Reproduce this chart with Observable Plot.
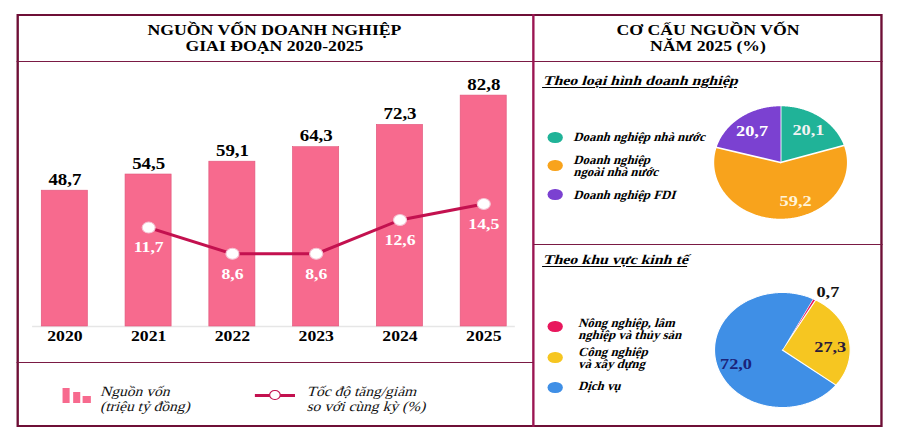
<!DOCTYPE html>
<html>
<head>
<meta charset="utf-8">
<script src="https://cdn.jsdelivr.net/npm/d3@7"></script>
<script src="https://cdn.jsdelivr.net/npm/@observablehq/plot@0.6"></script>
<style>
  html, body { margin: 0; padding: 0; background: #fff; }
  body { width: 897px; height: 441px; overflow: hidden; position: relative; }
  #page {
    position: absolute; left: 0; top: 0; width: 760px; height: 441px;
    transform: scaleX(1.18); transform-origin: 0 0;
    font-family: "Liberation Serif", "Times New Roman", serif; color: #000;
  }
  .abs { position: absolute; }
  .frame { left: 13.6px; top: 14px; width: 734.7px; height: 413px; border: 2px solid #6e0f36; box-sizing: border-box; }
  .hline { height: 1.5px; background: #7a1a44; }
  .vline { width: 2px; background: #9b1552; }
  .title { text-align: center; font-weight: bold; font-size: 15px; line-height: 16px; }
  /* slanted serif text, one line per element */
  .it { font-style: normal; transform: skewX(-14deg); transform-origin: 0 75%; white-space: nowrap; }
  .sub { font-weight: bold; font-size: 13.5px; line-height: 16px; text-decoration: underline; text-underline-offset: 2px; }
  .leg { font-weight: bold; font-size: 12.5px; line-height: 12.5px; transform: skewX(-14deg) scaleX(0.87); }
  .key { border-radius: 50%; width: 12.5px; height: 11px; }
  .bleg { font-size: 14px; line-height: 15px; color: #111; transform: skewX(-14deg) scaleX(0.94); }
</style>
</head>
<body>
<div id="page">
  <div class="abs frame"></div>
  <div class="abs hline" style="left:13.6px; top:60.5px; width:734.7px;"></div>
  <div class="abs vline" style="left:450.7px; top:14px; height:413px;"></div>
  <div class="abs hline" style="left:13.6px; top:361.5px; width:438px;"></div>
  <div class="abs hline" style="left:451.7px; top:243.5px; width:296.6px;"></div>

  <div class="abs title" style="left:13.6px; top:22px; width:438px;">NGUỒN VỐN DOANH NGHIỆP<br>GIAI ĐOẠN 2020-2025</div>
  <div class="abs title" style="left:451.7px; top:22px; width:296.6px;">CƠ CẤU NGUỒN VỐN<br>NĂM 2025 (%)</div>

  <div class="abs sub it" style="left:460.2px; top:73px;">Theo loại hình doanh nghiệp</div>
  <div class="abs sub it" style="left:460.2px; top:252px;">Theo khu vực kinh tế</div>

  <div id="barChart" class="abs" style="left:13.6px; top:62px;"></div>
  <div id="lineChart" class="abs" style="left:13.6px; top:62px;"></div>

  <div id="pieOwnership" class="abs" style="left:582px; top:83px;"></div>
  <div id="pieSector" class="abs" style="left:583.2px; top:270px;"></div>

  <div id="legendOwnership"></div>
  <div id="legendSector"></div>

  <!-- legend for the bar/line chart -->
  <div class="abs" style="left:53.4px; top:388px; width:6px; height:15px; background:#f76a8e;"></div>
  <div class="abs" style="left:61.5px; top:392px; width:6.5px; height:11px; background:#f76a8e;"></div>
  <div class="abs" style="left:70px; top:396px; width:6.5px; height:7px; background:#f76a8e;"></div>
  <div class="abs bleg it" style="left:84.7px; top:384px;">Nguồn vốn</div>
  <div class="abs bleg it" style="left:84.7px; top:399px;">(triệu tỷ đồng)</div>

  <div class="abs" style="left:216px; top:393.5px; width:34px; height:3px; background:#c3114f;"></div>
  <div class="abs" style="left:228.3px; top:390px; width:9.5px; height:10px; border-radius:50%; background:#fff; border:1px solid #c3114f; box-sizing:border-box;"></div>
  <div class="abs bleg it" style="left:259.5px; top:384px;">Tốc độ tăng/giảm</div>
  <div class="abs bleg it" style="left:259.5px; top:399px;">so với cùng kỳ (%)</div>
</div>

<script>
// Enterprise capital by year (trillion VND) and year-on-year growth (%)
const years = ["2020", "2021", "2022", "2023", "2024", "2025"];
const capital = [48.7, 54.5, 59.1, 64.3, 72.3, 82.8];
const growth = [null, 11.7, 8.6, 8.6, 12.6, 14.5];

// 2025 capital structure by type of enterprise (%)
const ownershipTypes = ["Doanh nghiệp nhà nước", "Doanh nghiệp ngoài nhà nước", "Doanh nghiệp FDI"];
const ownershipLegend = [["Doanh nghiệp nhà nước"], ["Doanh nghiệp", "ngoài nhà nước"], ["Doanh nghiệp FDI"]];
const ownershipShares = [20.1, 59.2, 20.7];
const ownershipColors = ["#20b398", "#f8a31c", "#7b41d1"];

// 2025 capital structure by economic sector (%)
const sectors = ["Nông nghiệp, lâm nghiệp và thủy sản", "Công nghiệp và xây dựng", "Dịch vụ"];
const sectorLegend = [["Nông nghiệp, lâm", "nghiệp và thủy sản"], ["Công nghiệp", "và xây dựng"], ["Dịch vụ"]];
const sectorShares = [0.7, 27.3, 72.0];
const sectorColors = ["#e8175d", "#f6c621", "#3f8fe6"];

const fmt = v => d3.format(".1f")(v).replace(".", ",");
const serif = '"Liberation Serif", "Times New Roman", serif';

const rows = years.map((year, i) => ({year, capital: capital[i], growth: growth[i]}));
const growthRows = rows.filter(d => d.growth != null);

// Shared frame for the bar chart and the growth line drawn over it
const frame = {
  width: 438, height: 298,
  marginLeft: 13.2, marginRight: 15.7, marginTop: 13, marginBottom: 34
};
const xScale = {type: "band", domain: years, paddingInner: 0.452, paddingOuter: 0.1, align: 0.5};

const bars = Plot.plot({
  ...frame,
  x: {...xScale, label: null, tickSize: 0, tickPadding: 4},
  y: {domain: [0, 90], axis: null},
  style: {background: "transparent", fontFamily: serif, fontSize: "15px", fontWeight: "bold", color: "#000", overflow: "visible"},
  marks: [
    Plot.ruleY([0], {stroke: "#e6e6e6", strokeWidth: 1.5}),
    Plot.barY(rows, {x: "year", y: "capital", fill: "#f76a8e", stroke: "#e2587d", strokeWidth: 0.6}),
    Plot.text(rows, {x: "year", y: "capital", text: d => fmt(d.capital), dy: -11, fontSize: 16, fontWeight: "bold", fill: "#000"})
  ]
});
document.getElementById("barChart").append(bars);

const line = Plot.plot({
  ...frame,
  x: {...xScale, axis: null},
  y: {domain: [0, 29.7], axis: null},
  style: {background: "transparent", fontFamily: serif, overflow: "visible"},
  marks: [
    Plot.line(growthRows, {x: "year", y: "growth", stroke: "#c3114f", strokeWidth: 3}),
    Plot.dot(growthRows, {x: "year", y: "growth", r: 5.5, fill: "#fff", stroke: "#f4c3d3", strokeWidth: 1}),
    Plot.text(growthRows, {x: "year", y: "growth", text: d => fmt(d.growth), dy: 20, fontSize: 15, fontWeight: "bold", fill: "#fff"})
  ]
});
document.getElementById("lineChart").append(line);

// Pie drawn as filled outlines on x/y scales of [-1, 1]
function pie({names, values, colors, r, start, labelRadii, labelShift, labelColors, strokeWidth}) {
  const margin = 22;
  const arcs = d3.pie().sort(null).startAngle(start).endAngle(start + 2 * Math.PI)(values);
  const outline = arcs.flatMap((a, i) => {
    const n = Math.max(2, Math.ceil((a.endAngle - a.startAngle) / 0.01));
    const pts = [{name: names[i], x: 0, y: 0}];
    for (let k = 0; k <= n; k++) {
      const t = a.startAngle + (a.endAngle - a.startAngle) * k / n;
      pts.push({name: names[i], x: Math.sin(t), y: Math.cos(t)});
    }
    return pts;
  });
  const labels = arcs.map((a, i) => {
    const m = (a.startAngle + a.endAngle) / 2;
    return {x: labelRadii[i] * Math.sin(m), y: labelRadii[i] * Math.cos(m), text: fmt(values[i]), color: labelColors[i], shift: labelShift[i]};
  });
  const size = 2 * r + 2 * margin;
  return Plot.plot({
    width: size, height: size, margin,
    x: {domain: [-1, 1], axis: null},
    y: {domain: [-1, 1], axis: null},
    color: {domain: names, range: colors},
    style: {background: "transparent", fontFamily: serif, overflow: "visible"},
    marks: [
      Plot.line(outline, {x: "x", y: "y", z: "name", fill: "name", stroke: "#fff", strokeWidth, strokeLinejoin: "round"}),
      ...labels.map(l => Plot.text([l], {
        x: "x", y: "y", text: "text", fill: l.color, fontSize: 15.5, fontWeight: "bold",
        dx: l.shift[0], dy: l.shift[1]
      }))
    ]
  });
}

document.getElementById("pieOwnership").append(pie({
  names: ownershipTypes, values: ownershipShares, colors: ownershipColors,
  r: 57, start: 0, labelRadii: [0.7, 0.68, 0.7], labelShift: [[0, 0], [12, 0], [0, 0]],
  labelColors: ["#f2f2f2", "#fff4d8", "#ffffff"], strokeWidth: 1.5
}));

document.getElementById("pieSector").append(pie({
  names: sectors, values: sectorShares, colors: sectorColors,
  r: 57.5, start: 0.47, labelRadii: [1.2, 0.72, 0.7], labelShift: [[6, 3], [0, 5], [0, 5]],
  labelColors: ["#111", "#2a1a3a", "#1b237a"], strokeWidth: 1
}));

// HTML legends beside the pies, one slanted element per text line
function legend(targetId, lines, colors, keyCenters, textLeft, firstLineCenters) {
  const host = document.getElementById(targetId);
  const lh = 12.5;
  lines.forEach((ls, i) => {
    const key = document.createElement("div");
    key.className = "abs key";
    key.style.left = (470.3 - 6.25) + "px";
    key.style.top = (keyCenters[i] - 5.5) + "px";
    key.style.background = colors[i];
    host.append(key);
    ls.forEach((txt, j) => {
      const t = document.createElement("div");
      t.className = "abs it leg";
      t.style.left = textLeft + "px";
      t.style.top = (firstLineCenters[i] - lh / 2 + j * lh) + "px";
      t.textContent = txt;
      host.append(t);
    });
  });
}
legend("legendOwnership", ownershipLegend, ownershipColors, [137, 165, 194], 485.6, [137, 160, 195]);
legend("legendSector", sectorLegend, sectorColors, [326, 357, 387], 490, [323, 352, 386]);
</script>
</body>
</html>
